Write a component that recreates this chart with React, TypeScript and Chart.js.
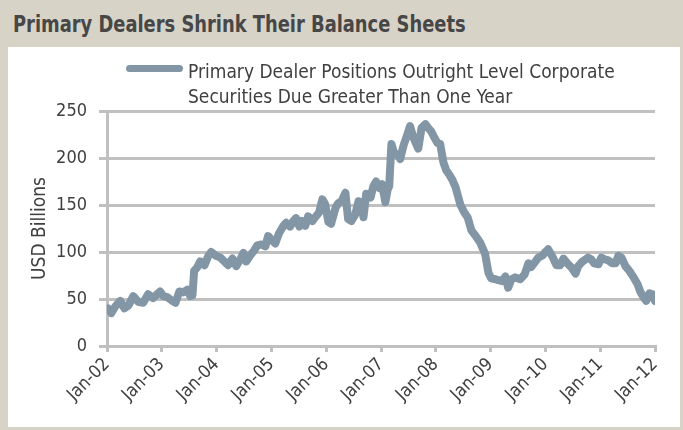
import React, { useEffect, useRef } from "react";
import { Chart, registerables } from "chart.js";

Chart.register(...registerables);

const TITLE = "Primary Dealers Shrink Their Balance Sheets";
const SERIES_LABEL = [
  "Primary Dealer Positions Outright Level Corporate",
  "Securities Due Greater Than One Year",
];
const Y_TITLE = "USD Billions";
const X_TICK_YEARS = [2002, 2003, 2004, 2005, 2006, 2007, 2008, 2009, 2010, 2011, 2012];
const X_TICK_LABELS = ["Jan-02", "Jan-03", "Jan-04", "Jan-05", "Jan-06", "Jan-07", "Jan-08", "Jan-09", "Jan-10", "Jan-11", "Jan-12"];
const Y_TICKS = [0, 50, 100, 150, 200, 250];

// observation dates as decimal years
const dates = [
  2002.02, 2002.08, 2002.15, 2002.24, 2002.32, 2002.39, 2002.48, 2002.57, 2002.66, 2002.75, 2002.84, 2002.97,
  2003.03, 2003.10, 2003.19, 2003.25, 2003.32, 2003.39, 2003.47, 2003.52, 2003.56, 2003.59, 2003.65, 2003.70, 2003.78, 2003.85, 2003.90, 2003.99,
  2004.07, 2004.14, 2004.21, 2004.29, 2004.36, 2004.43, 2004.49, 2004.54, 2004.61, 2004.69, 2004.74, 2004.82, 2004.89, 2004.94,
  2005.02, 2005.07, 2005.14, 2005.22, 2005.27, 2005.34, 2005.40, 2005.45, 2005.51, 2005.56, 2005.62, 2005.67, 2005.75, 2005.80, 2005.87, 2005.93, 2005.98,
  2006.04, 2006.09, 2006.17, 2006.22, 2006.28, 2006.35, 2006.40, 2006.46, 2006.53, 2006.59, 2006.64, 2006.68, 2006.73, 2006.81, 2006.86, 2006.91, 2006.97,
  2007.02, 2007.08, 2007.12, 2007.15, 2007.19, 2007.24, 2007.30, 2007.35, 2007.41, 2007.48, 2007.53, 2007.59, 2007.68, 2007.74, 2007.81, 2007.86, 2007.92, 2007.97,
  2008.03, 2008.08, 2008.14, 2008.19, 2008.25, 2008.30, 2008.36, 2008.45, 2008.52, 2008.58, 2008.65, 2008.74, 2008.81, 2008.90, 2008.96,
  2009.01, 2009.09, 2009.14, 2009.21, 2009.27, 2009.32, 2009.38, 2009.45, 2009.54, 2009.62, 2009.69, 2009.74, 2009.82, 2009.87, 2009.94,
  2010.00, 2010.05, 2010.13, 2010.20, 2010.27, 2010.33, 2010.40, 2010.47, 2010.55, 2010.60, 2010.66, 2010.73, 2010.78, 2010.84, 2010.89, 2010.97,
  2011.02, 2011.09, 2011.15, 2011.22, 2011.28, 2011.33, 2011.39, 2011.46, 2011.53, 2011.60, 2011.68, 2011.73, 2011.79, 2011.84, 2011.90, 2011.95, 2012.00,
];

// USD billions
const values = [
  40, 35, 42, 48, 40, 43, 53, 47, 46, 55, 51, 58,
  53, 52, 48, 46, 58, 57, 60, 53, 54, 80, 84, 90, 86, 96, 100, 96,
  94, 90, 86, 93, 85, 92, 99, 90, 96, 102, 107, 108, 106, 117,
  112, 109, 120, 128, 131, 127, 133, 136, 127, 133, 128, 138, 133, 137, 142, 156, 151,
  132, 130, 147, 152, 154, 163, 135, 133, 140, 154, 152, 137, 162, 158, 170, 175, 168,
  172, 153, 166, 170, 215, 205, 204, 199, 213, 225, 234, 222, 210, 232, 236, 232, 228, 222,
  216, 215, 195, 187, 182, 177, 169, 150, 142, 137, 123, 116, 110, 98, 78,
  72, 71, 70, 69, 74, 62, 71, 73, 71, 76, 88, 84, 90, 94, 96,
  100, 103, 95, 86, 86, 93, 88, 84, 77, 85, 89, 92, 94, 92, 88, 87,
  94, 92, 91, 88, 88, 96, 94, 85, 80, 74, 66, 58, 52, 48, 56, 55, 48,
];

const FONT = "'DejaVu Sans Condensed', 'DejaVu Sans', sans-serif";
const LINE_COLOR = "#8396a6";
const GRID_COLOR = "#c0c0c0";
const TEXT_COLOR = "#404040";
const FRAME_COLOR = "#d8d3c7";

export default function App() {
  const canvasRef = useRef<HTMLCanvasElement | null>(null);

  useEffect(() => {
    document.body.style.margin = "0";
    const canvas = canvasRef.current;
    if (!canvas) return;
    const points = dates.map((d, i) => ({ x: d, y: values[i] }));
    const chart = new Chart(canvas, {
      type: "line",
      data: {
        datasets: [
          {
            label: SERIES_LABEL.join(" "),
            data: points,
            borderColor: LINE_COLOR,
            backgroundColor: LINE_COLOR,
            borderWidth: 8,
            borderCapStyle: "round",
            borderJoinStyle: "round",
            pointRadius: 0,
            tension: 0,
          },
        ],
      },
      options: {
        animation: false,
        responsive: false,
        maintainAspectRatio: false,
        layout: { padding: { top: 64, right: 25, bottom: 0, left: 0 } },
        plugins: {
          tooltip: { enabled: false },
          legend: { display: false },
        },
        scales: {
          x: {
            type: "linear",
            min: X_TICK_YEARS[0],
            max: X_TICK_YEARS[X_TICK_YEARS.length - 1],
            afterBuildTicks: (scale: any) => {
              scale.ticks = X_TICK_YEARS.map((v) => ({ value: v }));
            },
            afterFit: (scale: any) => {
              scale.height = 81;
            },
            ticks: {
              autoSkip: false,
              maxRotation: 45,
              minRotation: 45,
              color: TEXT_COLOR,
              font: { family: FONT, size: 18 },
              padding: 2,
              callback: (v: any) => X_TICK_LABELS[X_TICK_YEARS.indexOf(Number(v))] ?? "",
            },
            grid: {
              drawOnChartArea: false,
              drawTicks: true,
              tickLength: 6,
              color: GRID_COLOR,
              lineWidth: 3,
            },
            border: { display: true, color: GRID_COLOR, width: 3 },
          },
          y: {
            min: Y_TICKS[0],
            max: Y_TICKS[Y_TICKS.length - 1],
            afterBuildTicks: (scale: any) => {
              scale.ticks = Y_TICKS.map((v) => ({ value: v }));
            },
            afterFit: (scale: any) => {
              scale.width = 99;
            },
            title: {
              display: true,
              text: Y_TITLE,
              color: TEXT_COLOR,
              font: { family: FONT, size: 19 },
              padding: { top: 21, bottom: 0 },
            },
            ticks: {
              color: TEXT_COLOR,
              font: { family: FONT, size: 18 },
              padding: 12,
            },
            grid: {
              color: GRID_COLOR,
              lineWidth: 3,
              tickLength: 8,
            },
            border: { display: true, color: GRID_COLOR, width: 3 },
          },
        },
      },
    });
    return () => chart.destroy();
  }, []);

  return (
    <div
      style={{
        position: "absolute",
        left: 0,
        top: 0,
        width: 683,
        height: 430,
        background: FRAME_COLOR,
        overflow: "hidden",
      }}
    >
      <div
        style={{
          position: "absolute",
          left: 13,
          top: 9,
          fontFamily: FONT,
          fontWeight: "bold",
          fontSize: 23,
          lineHeight: "30px",
          color: "#474747",
          whiteSpace: "nowrap",
          transform: "scaleX(0.864)",
          transformOrigin: "0 0",
        }}
      >
        {TITLE}
      </div>
      <div
        style={{
          position: "absolute",
          left: 8,
          top: 47,
          width: 672,
          height: 380,
          background: "#ffffff",
        }}
      >
        <canvas ref={canvasRef} width={672} height={380} style={{ display: "block", width: 672, height: 380 }} />
      </div>
      <div
        style={{
          position: "absolute",
          left: 126,
          top: 65,
          width: 57,
          height: 7,
          borderRadius: 4,
          background: LINE_COLOR,
        }}
      />
      <div
        style={{
          position: "absolute",
          left: 188,
          top: 59,
          fontFamily: FONT,
          fontSize: 19,
          lineHeight: "25px",
          color: TEXT_COLOR,
          whiteSpace: "nowrap",
        }}
      >
        {SERIES_LABEL.map((t) => (
          <div key={t}>{t}</div>
        ))}
      </div>
    </div>
  );
}
